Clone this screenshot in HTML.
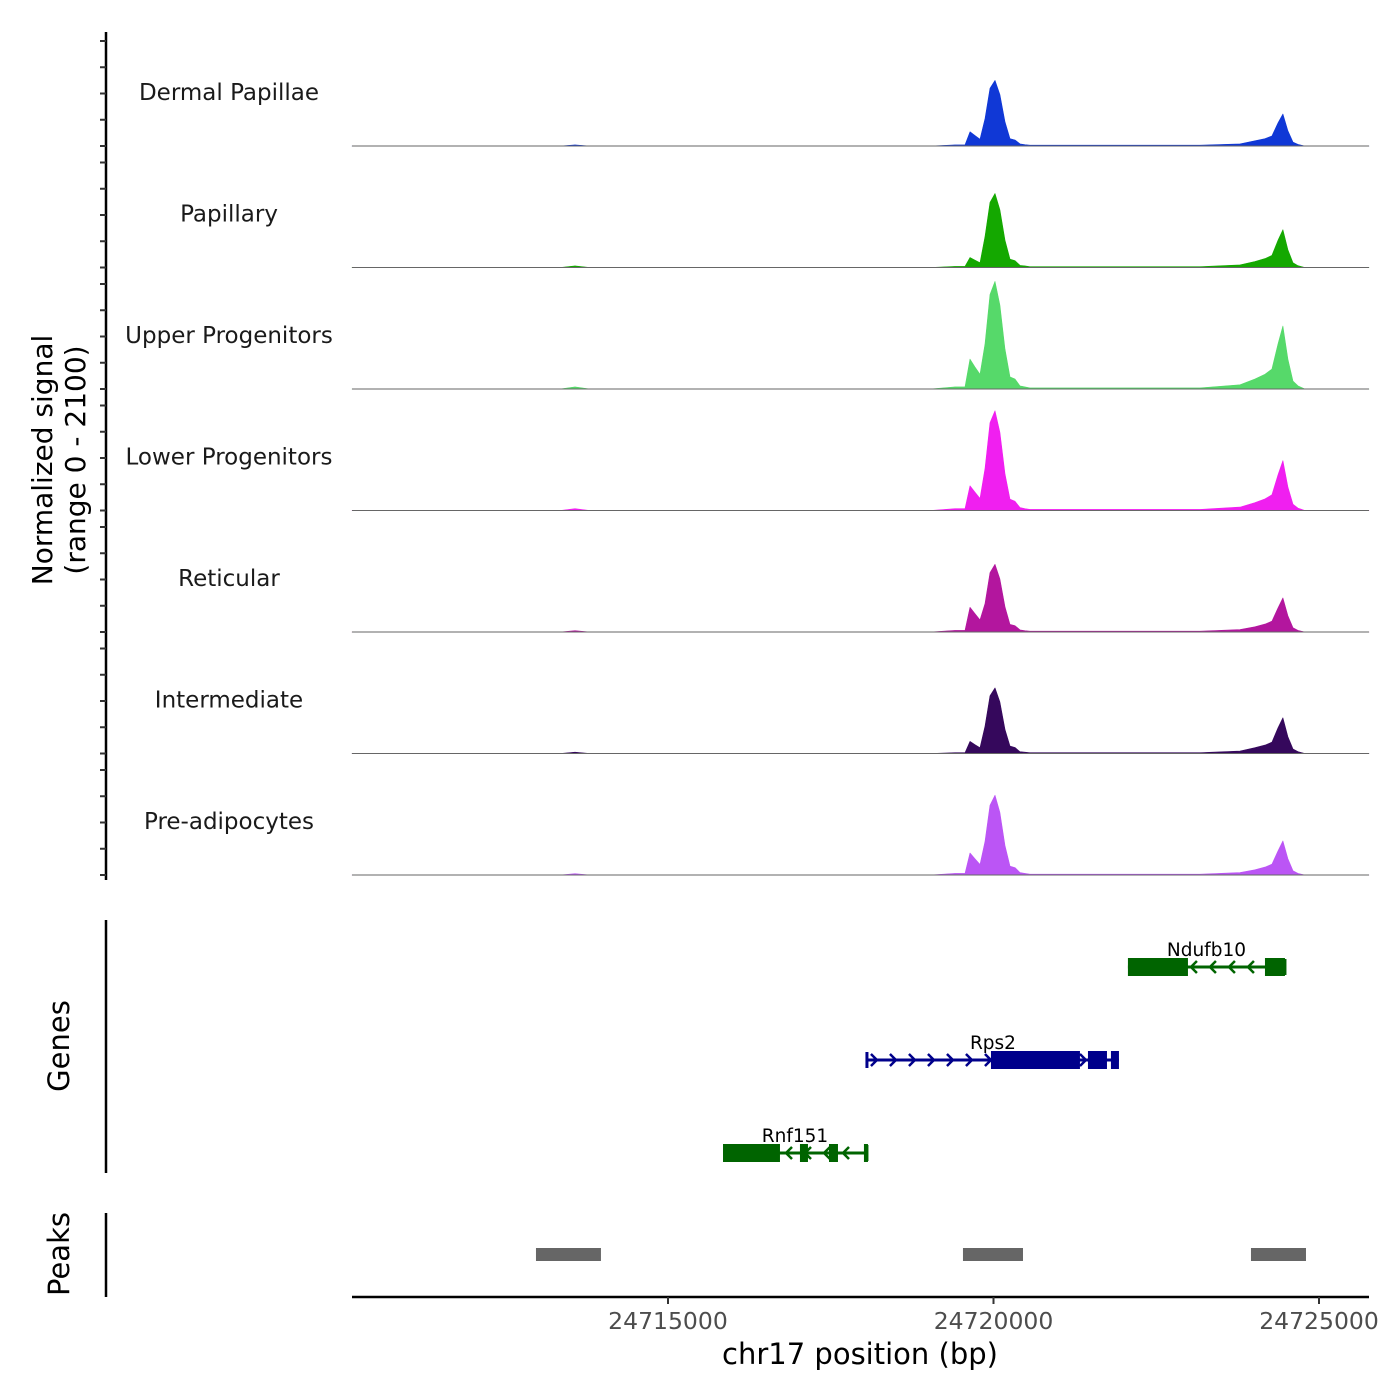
<!DOCTYPE html>
<html><head><meta charset="utf-8"><style>
html,body{margin:0;padding:0;background:#fff;}
svg{display:block;font-family:"DejaVu Sans","Liberation Sans",sans-serif;}
</style></head><body>
<svg id="chart" width="1400" height="1400" xmlns="http://www.w3.org/2000/svg"></svg>
<script>
const positions=[24710146,24713341,24713571,24713801,24719024,24719408,24719562,24719639,24719715,24719792,24719869,24719946,24720023,24720099,24720176,24720253,24720330,24720407,24720484,24720560,24720868,24723172,24723786,24724016,24724170,24724277,24724370,24724446,24724523,24724600,24724677,24724784,24725015,24725768];
const trackNames=["Dermal Papillae","Papillary","Upper Progenitors","Lower Progenitors","Reticular","Intermediate","Pre-adipocytes"];
const trackColors=["#1038d6","#14a800","#56d96a","#f01ff0","#b3169e","#35085c","#bb55f5"];
const dermalPapillae=[0,0,20,0,0,20,20,270,200,130,520,1100,1250,980,460,140,115,40,25,15,15,15,40,100,140,190,440,610,290,75,30,0,0,0];
const papillary=[0,0,30,0,0,20,20,190,140,90,590,1240,1410,1100,520,160,130,40,30,15,15,15,50,115,170,230,520,720,340,90,35,0,0,0];
const upperProgenitors=[0,0,40,0,0,40,40,570,420,280,860,1800,2050,1600,760,230,190,60,40,20,20,20,80,190,280,380,860,1200,570,150,60,0,0,0];
const lowerProgenitors=[0,0,35,0,0,35,35,470,350,230,800,1670,1900,1490,700,215,175,55,35,20,20,20,65,150,220,300,680,950,450,120,45,0,0,0];
const reticular=[0,0,25,0,0,30,30,470,350,230,540,1130,1290,1010,480,145,120,40,25,15,15,15,45,100,150,205,460,650,310,80,30,0,0,0];
const intermediate=[0,0,25,0,0,15,15,230,170,110,520,1100,1250,980,460,140,115,35,25,15,15,15,45,110,160,215,490,680,320,85,35,0,0,0];
const preAdipocytes=[0,0,25,0,0,30,30,420,310,200,640,1330,1520,1190,560,170,140,45,30,15,15,15,45,100,150,205,460,650,310,80,30,0,0,0];
const seriesValues=[dermalPapillae,papillary,upperProgenitors,lowerProgenitors,reticular,intermediate,preAdipocytes];
const xTicks=[24715000,24720000,24725000];
const xTickLabels=["24715000","24720000","24725000"];
const geneNames=["Ndufb10","Rps2","Rnf151"];
const geneStrands=["-","+","-"];
const geneColors=["#006400","#00008b","#006400"];
const geneStarts=[24722065,24718056,24715845];
const geneEnds=[24724477,24721927,24718056];
const geneExons=[[[24722065,24722987],[24724170,24724477]],[[24719961,24721328],[24721451,24721743],[24721804,24721927]],[[24715845,24716720],[24717027,24717150],[24717473,24717611],[24718010,24718056]]];
const peakStarts=[24712972,24719531,24723955];
const peakEnds=[24713970,24720453,24724800];

const NS="http://www.w3.org/2000/svg";
const svg=document.getElementById('chart');
function mk(tag,attrs,parent){const e=document.createElementNS(NS,tag);for(const k in attrs)e.setAttribute(k,attrs[k]);(parent||svg).appendChild(e);return e;}
const X0=352,X1=1369,G0=24710146,G1=24725768;
function xs(g){return X0+(g-G0)/(G1-G0)*(X1-X0);}
const base0=146,trackStep=121.5,pxPerUnit=105/2000;
function ys(v,t){return base0+t*trackStep-v*pxPerUnit;}

let ax=mk('line',{x1:106,y1:32,x2:106,y2:880,stroke:'#000','stroke-width':2.5});


for(let t=0;t<7;t++){
  for(let v=0;v<=2000;v+=500){
    const y=ys(v,t);
    const tk=mk('line',{x1:100,y1:y,x2:106,y2:y,stroke:'#333','stroke-width':2});
    
    
  }
}
let yt=mk('text',{x:0,y:0,'font-size':28,'text-anchor':'middle',fill:'#000',transform:'translate(52,460) rotate(-90)'});


mk('tspan',{x:0,dy:0},yt).textContent='Normalized signal';
mk('tspan',{x:0,dy:33},yt).textContent='(range 0 - 2100)';

for(let t=0;t<7;t++){
  const vals=seriesValues[t];
  let d='M'+xs(positions[0])+','+ys(0,t);
  for(let i=0;i<positions.length;i++)d+=' L'+xs(positions[i]).toFixed(1)+','+ys(vals[i],t).toFixed(1);
  d+=' L'+xs(positions[positions.length-1])+','+ys(0,t)+' Z';
  const p=mk('path',{d:d,fill:trackColors[t],stroke:trackColors[t],'stroke-width':0.6,'stroke-linejoin':'round'});
  
  
  const bl=mk('line',{x1:X0,y1:ys(0,t),x2:X1,y2:ys(0,t),stroke:'#666','stroke-width':1});
  
  
  const lb=mk('text',{x:229,y:ys(0,t)-46,'font-size':23,'text-anchor':'middle',fill:'#1a1a1a'});
  lb.textContent=trackNames[t];
  
  
}

let ga=mk('line',{x1:106,y1:920,x2:106,y2:1173,stroke:'#000','stroke-width':2.5});


let gt=mk('text',{x:0,y:0,'font-size':29,'text-anchor':'middle',fill:'#000',transform:'translate(69,1046) rotate(-90)'});
gt.textContent='Genes';


const geneY=[967,1060,1153];
for(let i=0;i<geneNames.length;i++){
  const y=geneY[i],c=geneColors[i];
  const g=mk('g',{});
  
  
  const xa=xs(geneStarts[i]),xb=xs(geneEnds[i]);
  mk('line',{x1:xa,y1:y,x2:xb,y2:y,stroke:c,'stroke-width':3},g);
  mk('line',{x1:geneStrands[i]=='+'?xa:xb,y1:y-8,x2:geneStrands[i]=='+'?xa:xb,y2:y+8,stroke:c,'stroke-width':3},g);
  for(let ax2=xa+8;ax2<xb-6;ax2+=19){
    const dir=geneStrands[i]=='+'?1:-1;
    mk('polyline',{points:(ax2-4*dir)+','+(y-6)+' '+(ax2+2*dir)+','+y+' '+(ax2-4*dir)+','+(y+6),fill:'none',stroke:c,'stroke-width':2.5},g);
  }
  for(const ex of geneExons[i]){
    mk('rect',{x:xs(ex[0]),y:y-9,width:Math.max(4,xs(ex[1])-xs(ex[0])),height:18,fill:c},g);
  }
  const lt=mk('text',{x:(xa+xb)/2,y:y-11,'font-size':18.5,'text-anchor':'middle',fill:'#000'},g);
  lt.textContent=geneNames[i];
}
let pa=mk('line',{x1:106,y1:1213,x2:106,y2:1297,stroke:'#000','stroke-width':2.5});


let pt=mk('text',{x:0,y:0,'font-size':29,'text-anchor':'middle',fill:'#000',transform:'translate(69,1254) rotate(-90)'});
pt.textContent='Peaks';


for(let i=0;i<peakStarts.length;i++){
  const r=mk('rect',{x:xs(peakStarts[i]),y:1248,width:xs(peakEnds[i])-xs(peakStarts[i]),height:13,fill:'#666'});
  
  
}
let xa=mk('line',{x1:X0,y1:1297,x2:X1,y2:1297,stroke:'#000','stroke-width':2.5});


for(let i=0;i<xTicks.length;i++){
  const x=xs(xTicks[i]);
  const tk=mk('line',{x1:x,y1:1297,x2:x,y2:1304,stroke:'#333','stroke-width':2});
  
  
  const tl=mk('text',{x:x,y:1329,'font-size':23.5,'text-anchor':'middle',fill:'#4d4d4d'});
  tl.textContent=xTickLabels[i];
  
  
}
let xt=mk('text',{x:860,y:1364,'font-size':29,'text-anchor':'middle',fill:'#000'});
xt.textContent='chr17 position (bp)';


</script>
</body></html>
